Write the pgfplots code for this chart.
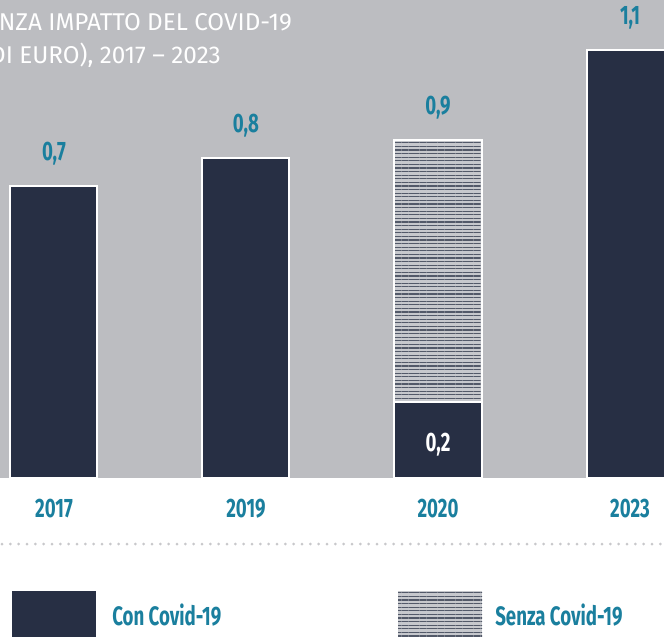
\documentclass[border=0pt]{standalone}
\usepackage{pgfplots}
\pgfplotsset{compat=1.18}
\usetikzlibrary{patterns.meta}
\usepackage{fontspec}
\setmainfont{Fira Sans}
\newfontfamily\cond{Fira Sans}[FakeStretch=0.7]
\definecolor{navy}{HTML}{272F44}
\definecolor{bggray}{HTML}{BCBDC1}
\definecolor{tealc}{HTML}{1A7F9E}
\definecolor{hatchbg}{HTML}{C6C8CD}
\definecolor{hatchline}{HTML}{525969}
\definecolor{dotgray}{HTML}{C8C8CB}
\newcommand\lab{\cond\bfseries\fontsize{20}{24}\selectfont}
\tikzset{hatchfill/.style={preaction={fill=hatchbg},pattern={Lines[angle=0,distance=2.7pt,line width=1.0pt]},pattern color=hatchline}}
\begin{document}
\begin{tikzpicture}[x=0.75pt,y=-0.75pt]
\useasboundingbox (0,0) rectangle (664,636);
\clip (0,0) rectangle (664,636);
\fill[white] (0,0) rectangle (664,636);
\begin{axis}[
  at={(0pt,-358.5pt)}, anchor=south west,
  width=498pt, height=358.5pt, scale only axis,
  xmin=-0.281, xmax=3.177, ymin=0, ymax=1.195,
  axis background/.style={fill=bggray},
  axis line style={draw=none},
  ytick=\empty, xtick={0,1,2,3}, xticklabels={2017,2019,2020,2023},
  major tick length=0pt,
  xticklabel style={anchor=base, yshift=-29.25pt, font=\lab, text=tealc},
  ybar, bar width=65.25pt, bar shift=0pt, clip=false,
]
\addplot[fill=navy, draw=white, line width=1.5pt,
  nodes near coords, point meta=explicit symbolic,
  every node near coord/.append style={anchor=center, yshift=24pt, font=\lab, text=tealc}]
  coordinates {(0,0.73) [0,7] (1,0.80) [0,8] (3,1.07) [1,1]};
\addplot[hatchfill, draw=white, line width=1.5pt,
  nodes near coords, point meta=explicit symbolic,
  every node near coord/.append style={anchor=center, yshift=24pt, font=\lab, text=tealc}]
  coordinates {(2,0.845) [0,9]};
\addplot[fill=navy, draw=white, line width=1.5pt,
  nodes near coords, point meta=explicit symbolic,
  every node near coord/.append style={anchor=center, yshift=-32pt, font=\lab, text=white}]
  coordinates {(2,0.19) [0,2]};
\end{axis}
\node[anchor=base east, inner sep=0pt, text=white, font=\fontsize{18.2}{22}\selectfont] at (292,30) {VALORE DELLE ESPORTAZIONI CON E SENZA IMPATTO DEL COVID-19};
\node[anchor=base east, inner sep=0pt, text=white, font=\fontsize{18.2}{22}\selectfont] at (221,63) {(MILIARDI DI EURO), 2017 – 2023};
\draw[dotgray, line width=2.25pt, line cap=round, dash pattern=on 0pt off 6.25pt] (2,544) -- (664,544);
\fill[navy] (12,591) rectangle (96,640);
\path[hatchfill] (398,591) rectangle (482,640);
\node[anchor=base west, inner sep=0pt, text=tealc, font=\lab] at (112,625) {Con Covid-19};
\node[anchor=base west, inner sep=0pt, text=tealc, font=\lab] at (495,625) {Senza Covid-19};
\end{tikzpicture}
\end{document}
